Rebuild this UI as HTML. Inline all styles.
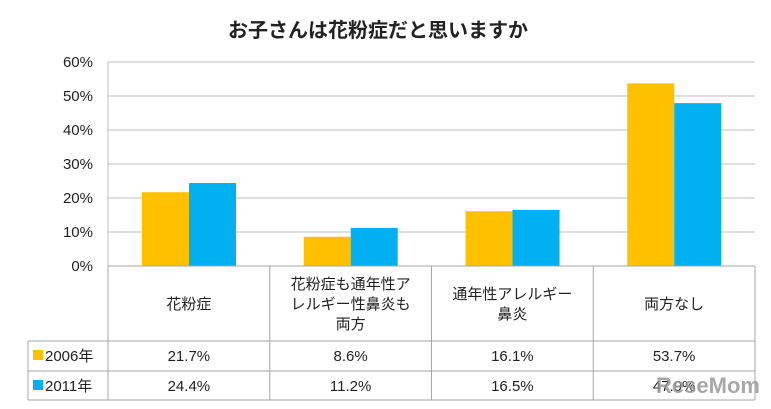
<!DOCTYPE html>
<html><head><meta charset="utf-8"><style>
body{margin:0;background:#fff;}
svg text{font-family:"Liberation Sans","Noto Sans CJK JP",sans-serif;fill:#222;}
</style></head><body>
<svg width="771" height="404" viewBox="0 0 771 404">
<text x="378" y="37" font-size="20" font-weight="bold" text-anchor="middle">お子さんは花粉症だと思いますか</text>
<g id="grid"></g><g id="bars"></g><g id="table"></g>
<text x="708" y="393" font-size="22" font-weight="bold" style="fill:#9a9a9a;opacity:0.85" text-anchor="middle">ReseMom</text>
</svg>
<script>
const categories=[["花粉症"],["花粉症も通年性ア","レルギー性鼻炎も","両方"],["通年性アレルギー","鼻炎"],["両方なし"]];
const series2006=[21.7,8.6,16.1,53.7];
const series2011=[24.4,11.2,16.5,47.9];
const seriesNames=["2006年","2011年"];
const ticks=[0,10,20,30,40,50,60];
const colors=["#FFC000","#00B0F0"];
const NS="http://www.w3.org/2000/svg";
const x0=108,x1=755,y0=266,yTop=62,maxV=60;
const cw=(x1-x0)/categories.length;
const yS=v=>y0-(v/maxV)*(y0-yTop);
function mk(t,a,p){const e=document.createElementNS(NS,t);for(const k in a)e.setAttribute(k,a[k]);p.appendChild(e);return e;}
const grid=document.getElementById('grid'),bars=document.getElementById('bars'),tb=document.getElementById('table');
ticks.forEach(t=>{const l=mk('line',{x1:x0,x2:x1,y1:yS(t),y2:yS(t),stroke:'#bfbfbf','stroke-width':1},grid);


const tx=mk('text',{x:93,y:yS(t)+5,'font-size':15,'text-anchor':'end'},grid);tx.textContent=t+'%';

});
mk('line',{x1:x0,x2:x0,y1:yTop,y2:y0,stroke:'#bfbfbf'},grid);
[series2006,series2011].forEach((s,si)=>s.forEach((v,i)=>{
const r=mk('rect',{x:x0+i*cw+34+si*47,y:yS(v),width:47,height:y0-yS(v),fill:colors[si]},bars);

}));
const st={stroke:'#a6a6a6','stroke-width':1};
mk('line',Object.assign({x1:x0,x2:x1,y1:266,y2:266},st),tb);
mk('line',Object.assign({x1:28,x2:x1,y1:341,y2:341},st),tb);
mk('line',Object.assign({x1:28,x2:x1,y1:371,y2:371},st),tb);
mk('line',Object.assign({x1:28,x2:x1,y1:400,y2:400},st),tb);
mk('line',Object.assign({x1:28,x2:28,y1:341,y2:400},st),tb);
for(let i=0;i<=categories.length;i++)mk('line',Object.assign({x1:x0+i*cw,x2:x0+i*cw,y1:266,y2:400},st),tb);
categories.forEach((c,i)=>{const cx=x0+i*cw+cw/2;const lh=20;const start=303-(c.length-1)*lh/2+6;
c.forEach((ln,j)=>{const t=mk('text',{x:cx,y:start+j*lh,'font-size':15,'text-anchor':'middle'},tb);t.textContent=ln;

});});
[series2006,series2011].forEach((s,si)=>{const ry=si?386:356;
const sw=mk('rect',{x:33,y:ry-6,width:10,height:10,fill:colors[si]},tb);


const ln=mk('text',{x:45,y:ry+5,'font-size':15},tb);ln.textContent=seriesNames[si];


s.forEach((v,i)=>{const t=mk('text',{x:x0+i*cw+cw/2,y:ry+5,'font-size':15,'text-anchor':'middle'},tb);t.textContent=v.toFixed(1)+'%';

});});
</script>
</body></html>
